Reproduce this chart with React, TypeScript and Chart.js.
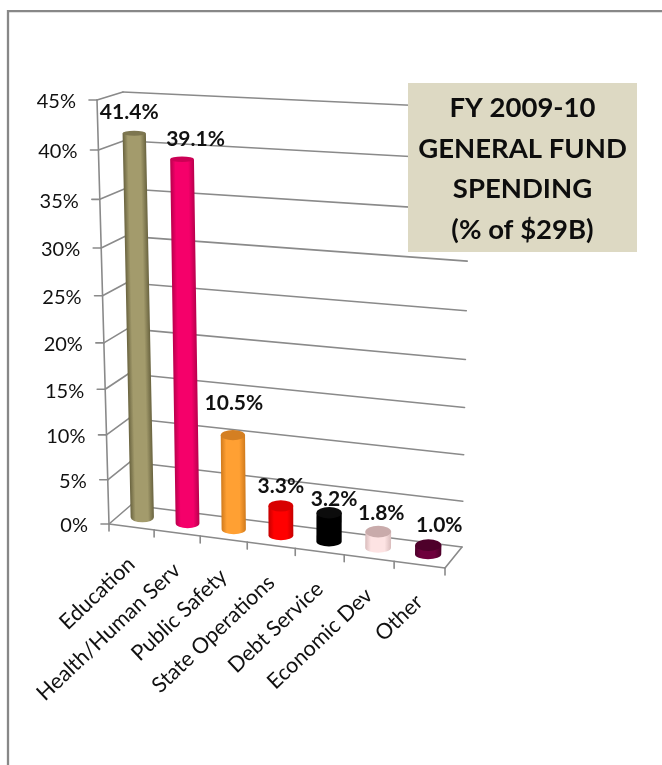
import React, { useEffect, useRef } from "react";
import { Chart, BarController, registerables } from "chart.js";

// FY 2009-10 general fund spending, percent of total
const categories = [
  "Education",
  "Health/Human Serv",
  "Public Safety",
  "State Operations",
  "Debt Service",
  "Economic Dev",
  "Other",
];
const spendingPct = [41.4, 39.1, 10.5, 3.3, 3.2, 1.8, 1.0];
const valueLabels = ["41.4%", "39.1%", "10.5%", "3.3%", "3.2%", "1.8%", "1.0%"];
const bodyColors = ["#a39b6c", "#f5006a", "#ffa033", "#ff0000", "#000000", "#fde3e3", "#6e003c"];
const edgeColors = ["#69633f", "#b8004c", "#d07a1c", "#c40000", "#000000", "#d9bcbc", "#4c0029"];
const capColors = ["#7d7650", "#cc0055", "#d47f22", "#d80000", "#0c0c0c", "#c9abab", "#4e002a"];
const titleLines = ["FY 2009-10", "GENERAL FUND", "SPENDING", "(% of $29B)"];

const FONT = "Lato, 'Open Sans', sans-serif";
const INK = "#111111";
const LINE = "#8a8a8a";

type Pt = [number, number];

// Corners of the 3D plot box on the canvas: front/back, bottom/top, left/right.
const BOX: Record<string, Pt> = {
  fbl: [109, 524],
  fbr: [445, 568],
  bbl: [131, 505],
  bbr: [462, 547],
  ftl: [97, 100],
  ftr: [453, 128],
  btl: [123, 92],
  btr: [470, 108],
};

const PERSPECTIVE = 0.07;
const warp = (t: number) => t - PERSPECTIVE * t * (1 - t);
const mix = (a: Pt, b: Pt, t: number): Pt => [a[0] + (b[0] - a[0]) * t, a[1] + (b[1] - a[1]) * t];

// u: along the categories, v: up the values, d: 0 at the front, 1 at the back
function project(u: number, v: number, d: number): Pt {
  const uu = warp(u);
  const vv = warp(v);
  const front = mix(mix(BOX.fbl, BOX.fbr, uu), mix(BOX.ftl, BOX.ftr, uu), vv);
  const back = mix(mix(BOX.bbl, BOX.bbr, uu), mix(BOX.btl, BOX.btr, uu), vv);
  return mix(front, back, d);
}

function segment(ctx: CanvasRenderingContext2D, a: Pt, b: Pt) {
  ctx.beginPath();
  ctx.moveTo(a[0], a[1]);
  ctx.lineTo(b[0], b[1]);
  ctx.stroke();
}

const toU = (chart: any, px: number) => (px - chart.chartArea.left) / chart.chartArea.width;
const toV = (chart: any, py: number) => (chart.chartArea.bottom - py) / chart.chartArea.height;

const BASE_RY = 5;
// Caps flatten as they rise toward eye level
const capRy = (v: number) => 6 - 3.8 * v;

// Bar controller whose bars are drawn as upright cylinders inside the plot box.
class CylinderController extends BarController {
  static id = "cylinder";
  static defaults = BarController.defaults;
  static overrides = BarController.overrides;

  draw() {
    const chart: any = this.chart;
    const ctx: CanvasRenderingContext2D = chart.ctx;
    const meta: any = this.getMeta();
    meta.data.forEach((el: any, i: number) => {
      const u = toU(chart, el.x);
      const v = toV(chart, el.y);
      const halfU = el.width / chart.chartArea.width / 2;
      const base = project(u, toV(chart, el.base), 0.5);
      const top = project(u, v, 0.5);
      const r = (project(u + halfU, 0, 0.5)[0] - project(u - halfU, 0, 0.5)[0]) / 2;
      const lean = (top[0] - base[0]) / (top[1] - base[1]);

      ctx.save();
      // shear so the body follows the leaning vertical of the box
      ctx.transform(1, 0, lean, 1, base[0] - lean * base[1], 0);
      const grad = ctx.createLinearGradient(-r, 0, r, 0);
      grad.addColorStop(0, edgeColors[i]);
      grad.addColorStop(0.22, el.options.backgroundColor);
      grad.addColorStop(0.75, el.options.backgroundColor);
      grad.addColorStop(1, edgeColors[i]);
      ctx.fillStyle = grad;
      ctx.beginPath();
      ctx.moveTo(-r, top[1]);
      ctx.lineTo(-r, base[1]);
      ctx.ellipse(0, base[1], r, BASE_RY, 0, Math.PI, 0, true);
      ctx.lineTo(r, top[1]);
      ctx.closePath();
      ctx.fill();
      ctx.fillStyle = capColors[i];
      ctx.beginPath();
      ctx.ellipse(0, top[1], r, capRy(v), 0, 0, Math.PI * 2);
      ctx.fill();
      ctx.restore();
    });
  }
}

const framePlugin = {
  id: "frame",
  beforeDraw(chart: any) {
    const { ctx } = chart;
    ctx.save();
    ctx.fillStyle = "#ffffff";
    ctx.fillRect(0, 0, chart.width, chart.height);
    ctx.strokeStyle = "#888888";
    ctx.lineWidth = 2.3;
    ctx.beginPath();
    ctx.moveTo(8, chart.height);
    ctx.lineTo(8, 11.2);
    ctx.lineTo(chart.width, 11.2);
    ctx.stroke();
    ctx.restore();
  },
};

// Walls, floor, gridlines and tick marks of the plot box
const boxPlugin = {
  id: "box",
  beforeDatasetsDraw(chart: any) {
    const { ctx, scales } = chart;
    ctx.save();
    ctx.strokeStyle = LINE;
    ctx.lineWidth = 1.6;
    ctx.lineCap = "round";

    ctx.fillStyle = INK;
    ctx.font = `20px ${FONT}`;
    ctx.textAlign = "right";
    ctx.textBaseline = "middle";
    scales.y.ticks.forEach((tick: any) => {
      const v = toV(chart, scales.y.getPixelForValue(tick.value));
      const f = project(0, v, 0);
      segment(ctx, [f[0] - 8, f[1]], f);
      segment(ctx, f, project(0, v, 1));
      segment(ctx, project(0, v, 1), project(1, v, 1));
      ctx.fillText(`${tick.value}%`, f[0] - 21, f[1] + 2);
    });
    segment(ctx, project(0, 0, 0), project(0, 1, 0));
    segment(ctx, project(0, 0, 0), project(1, 0, 0));
    segment(ctx, project(1, 0, 0), project(1, 0, 1));

    const cats = scales.x.ticks.length;
    for (let i = 0; i <= cats; i++) {
      const f = project(i / cats, 0, 0);
      segment(ctx, f, [f[0], f[1] + 7]);
    }
    ctx.restore();
  },
};

// Value labels hand-placed over each cylinder
const LABEL_NUDGE: Pt[] = [
  [-5, -17],
  [13.5, -16],
  [1, -28],
  [0, -16],
  [5, -10],
  [3, -14],
  [11, -16],
];

const labelPlugin = {
  id: "labels",
  afterDatasetsDraw(chart: any) {
    const { ctx, scales } = chart;
    ctx.save();
    ctx.fillStyle = INK;

    // Category names, slanted under the floor
    ctx.font = `21.5px ${FONT}`;
    ctx.textAlign = "right";
    ctx.textBaseline = "middle";
    categories.forEach((name, i) => {
      const p = project(toU(chart, scales.x.getPixelForValue(i)), 0, 0);
      ctx.save();
      ctx.translate(p[0], p[1] + 34);
      ctx.rotate((-43.5 * Math.PI) / 180);
      ctx.fillText(name, 0, 0);
      ctx.restore();
    });

    // Value labels
    const meta = chart.getDatasetMeta(0);
    ctx.font = `bold 21px ${FONT}`;
    ctx.textAlign = "center";
    meta.data.forEach((el: any, i: number) => {
      const top = project(toU(chart, el.x), toV(chart, el.y), 0.5);
      ctx.fillText(valueLabels[i], top[0] + LABEL_NUDGE[i][0], top[1] - 4 + LABEL_NUDGE[i][1]);
    });

    // Title panel
    ctx.fillStyle = "#ddd9c3";
    ctx.fillRect(408, 83, 229, 169);
    ctx.fillStyle = "#0d0d0d";
    ctx.font = `bold 27.5px ${FONT}`;
    titleLines.forEach((line, i) => {
      ctx.fillText(line, 522.5, 108 + i * 40.8);
    });
    ctx.restore();
  },
};

Chart.register(...registerables, CylinderController);

export default function App() {
  const canvasRef = useRef<HTMLCanvasElement>(null);

  useEffect(() => {
    const chart = new Chart(canvasRef.current as HTMLCanvasElement, {
      type: "cylinder" as any,
      data: {
        labels: categories,
        datasets: [
          {
            data: spendingPct,
            backgroundColor: bodyColors,
            categoryPercentage: 1,
            barPercentage: 0.52,
            clip: false,
          },
        ],
      },
      options: {
        responsive: false,
        animation: false,
        layout: { padding: { left: 109, top: 100, right: 217, bottom: 241 } },
        plugins: { legend: { display: false }, tooltip: { enabled: false } },
        scales: {
          x: { display: false, ticks: { autoSkip: false } },
          y: { display: false, min: 0, max: 45, ticks: { stepSize: 5 } },
        },
      },
      plugins: [framePlugin, boxPlugin, labelPlugin],
    });
    return () => chart.destroy();
  }, []);

  return (
    <div style={{ position: "absolute", left: 0, top: 0, width: 662, height: 765 }}>
      <canvas ref={canvasRef} width={662} height={765} style={{ display: "block" }} />
    </div>
  );
}
